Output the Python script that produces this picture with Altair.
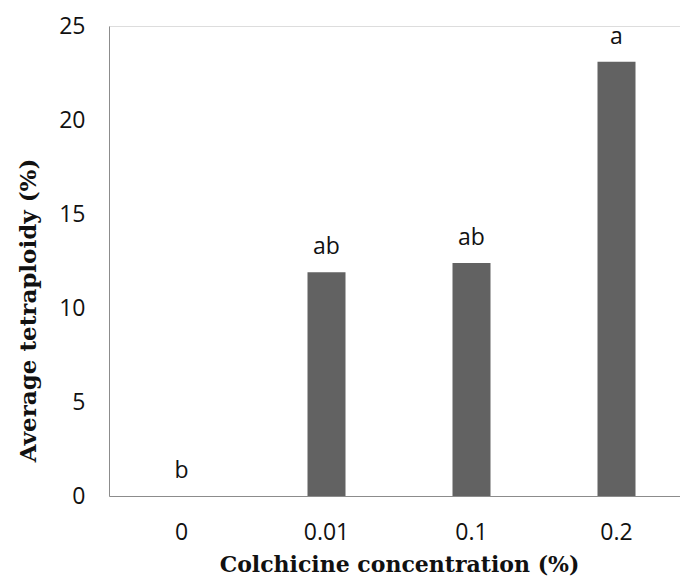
import altair as alt
import pandas as pd

concentrations = ["0", "0.01", "0.1", "0.2"]
tetraploidy = [0.0, 11.9, 12.4, 23.1]
letters = ["b", "ab", "ab", "a"]

df = pd.DataFrame({"conc": concentrations, "val": tetraploidy, "lab": letters})

x = alt.X("conc:N", sort=concentrations,
          scale=alt.Scale(paddingInner=0, paddingOuter=0, range=[0, 580]),
          axis=alt.Axis(title="Colchicine concentration (%)", labelAngle=0, ticks=False,
                        labelPadding=25, titlePadding=10, domainColor="#8c8c8c",
                        labelFont="Open Sans", labelFontSize=23, labelColor="#111111",
                        titleFont="DejaVu Serif", titleFontSize=22, titleFontWeight="bold",
                        titleColor="#111111", titleX=290, titleAlign="center"))
y = alt.Y("val:Q", scale=alt.Scale(domain=[0, 25], nice=False),
          axis=alt.Axis(title="Average tetraploidy (%)", values=[0, 5, 10, 15, 20, 25],
                        ticks=False, grid=False, labelPadding=24, domainColor="#8c8c8c",
                        labelFont="Open Sans", labelFontSize=23, labelColor="#111111",
                        titleFont="DejaVu Serif", titleFontSize=23, titleFontWeight="bold",
                        titleColor="#111111", titleX=-81, titleY=284, titleAngle=-90,
                        titleBaseline="middle", titleAlign="center"))

bars = alt.Chart(df).mark_bar(size=38, color="#626262").encode(x=x, y=y)
text = alt.Chart(df).mark_text(baseline="alphabetic", dy=-18, font="Open Sans",
                               fontSize=23, color="#111111").encode(x=x, y="val:Q", text="lab:N")

chart = (bars + text).properties(
    width=571, height=470,
    autosize=alt.AutoSizeParams(type="none"),
    padding={"left": 101, "top": 18, "right": 0, "bottom": 81},
).configure_view(stroke=None).configure(background="white")

chart.save("out.html", embed_options={"renderer": "svg", "actions": False})
